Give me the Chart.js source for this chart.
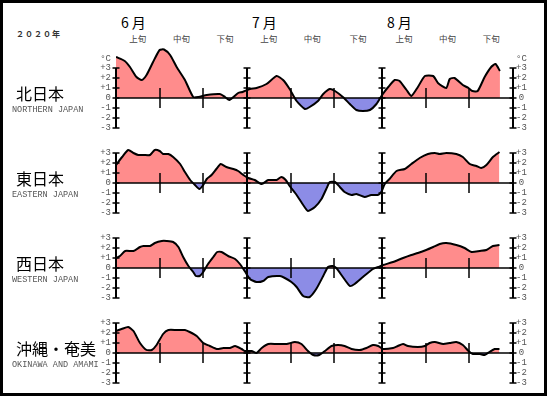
<!DOCTYPE html>
<html lang="ja">
<head>
<meta charset="utf-8">
<title>2020年 夏の地域平均気温平年差</title>
<script src="https://cdn.jsdelivr.net/npm/chart.js@4.4.1/dist/chart.umd.min.js"></script>
<style>
  html, body { margin: 0; padding: 0; background: #fff; }
  body { position: relative; width: 547px; height: 396px; overflow: hidden; }
  #frame { position: absolute; left: 0; top: 0; width: 547px; height: 396px; box-sizing: border-box;
           border: 3px solid #000; pointer-events: none; z-index: 5; }
  canvas { position: absolute; left: 0; }
  .lbl { position: absolute; white-space: nowrap; line-height: 1; transform: translateY(-50%); }
  .year { font: bold 8px "Noto Sans CJK JP"; color: #333; letter-spacing: 1px; }
  .month { font: 14px "Noto Sans CJK JP"; color: #000; letter-spacing: 3px; }
  .dekad { font: 8.5px "Noto Sans CJK JP"; color: #444; transform: translate(-50%, -50%); }
  .ja { font: 16px "Noto Sans CJK JP"; color: #000; }
  .en { font: 8.5px "Liberation Mono", monospace; color: #555; }
</style>
</head>
<body>
<div id="frame"></div>
<canvas id="c0" width="547" height="96" style="top:44px"></canvas>
<canvas id="c1" width="547" height="84" style="top:141px"></canvas>
<canvas id="c2" width="547" height="84" style="top:226px"></canvas>
<canvas id="c3" width="547" height="84" style="top:311px"></canvas>

<script>
/* =====================================================================
   2020年 6〜8月  地域平均気温 平年差 (°C)
   day 0 = 6/1, day 91 = 8/31
   ===================================================================== */

const yearLabel = '２０２０年';
const monthNames = ['6月', '7月', '8月'];
const monthStart = [0, 30, 61];
const axisDays = [0, 30, 61, 91];
const dekadTicks = [10, 20, 40, 50, 71, 81];
const dekadNames = ['上旬', '中旬', '下旬'];
const dekadMid = [5, 15, 25, 35, 45, 55.5, 66, 76, 86];
const tickValues = [3, 2, 1, 0, -1, -2, -3];
const regionJa = ['北日本', '東日本', '西日本', '沖縄・奄美'];
const regionEn = ['NORTHERN JAPAN', 'EASTERN JAPAN', 'WESTERN JAPAN', 'OKINAWA AND AMAMI'];

const northDays = [0, 2, 3.2, 4.7, 5.9, 7, 8.5, 10, 11, 12.4, 13.9, 15.8, 17.7, 18.9, 20.8, 23.8, 25, 26, 28, 29,
  30.7, 32.2, 34.5, 36.8, 38.3, 39.8, 41.4, 43.3, 44.4, 46.3, 47.5, 49, 50.2, 52, 53.6, 55.1, 56.6, 58.2, 59.7,
  61, 62.4, 63.9, 65, 66.6, 67.7, 69.2, 70.8, 72.7, 73.8, 75.7, 76.5, 77.6, 79.5, 80.8, 81.7, 82.9, 84.5, 86, 87, 88];
const northTemp = [4.1, 3.7, 3.1, 2.1, 1.8, 2.3, 3.6, 4.8, 4.85, 4.3, 3.1, 1.8, 0.1, 0.1, 0.3, 0.4, 0.1, -0.2, 0.5, 0.6,
  0.9, 1.0, 1.4, 2.2, 1.8, 0.9, -0.3, -1.1, -0.9, -0.3, 0.4, 0.9, 0.7, 0.1, -0.6, -1.2, -1.3, -1.2, -0.6,
  0.3, 1.1, 1.8, 1.7, 0.8, 0.2, 1.1, 2.2, 2.2, 1.5, 1.0, 1.9, 2.0, 1.3, 1.0, 0.7, 0.7, 2.1, 3.1, 3.4, 2.7];

const eastDays = [0, 1.4, 2.8, 4, 5.1, 6.3, 7.8, 8.9, 10, 10.8, 12, 13.1, 14.7, 15.8, 17, 18.1, 19.1, 20, 20.8, 21.9,
  23, 24, 25.3, 26.9, 28, 29.2, 30.3, 31.8, 33.4, 34.9, 36.8, 37.9, 38.9, 39.8, 41.4, 42.9, 44, 45.6, 47.1, 48.2,
  49, 50.2, 51.3, 52.4, 54, 55.1, 57, 58.5, 60, 60.8, 61.6, 62.7, 64.3, 66.2, 67.7, 69.6, 71.5, 73.1, 74.2, 75.7,
  78, 79.5, 81.1, 82.6, 83.7, 84.9, 86.4, 87.9];
const eastTemp = [1.8, 2.6, 3.3, 3.0, 2.8, 2.8, 2.8, 3.3, 3.2, 2.9, 2.9, 2.6, 1.9, 1.1, 0.3, -0.2, -0.6, -0.2, 0.4, 0.8,
  1.4, 1.9, 1.6, 1.4, 1.2, 0.8, 0.5, 0.3, -0.1, 0.3, 0.3, 0.6, 0.3, -0.3, -1.2, -2.2, -2.8, -2.4, -1.6, -0.6,
  0.1, 0.1, -0.4, -0.9, -1.2, -1.1, -1.4, -1.2, -1.2, -0.9, -0.1, 0.4, 1.2, 1.4, 1.9, 2.5, 2.9, 3.0, 2.9, 3.0,
  2.9, 2.6, 1.9, 1.7, 1.5, 1.8, 2.6, 3.1];

const westDays = [0, 0.9, 2.1, 4, 5.5, 6.3, 7.8, 8.9, 10.5, 11.6, 13.1, 14.3, 15.4, 16.6, 17.7, 18.3, 19.2, 20, 21.1,
  22.3, 23.2, 24.2, 25.7, 27.3, 28.4, 29.5, 30.7, 32.2, 33.7, 34.9, 37.6, 38.7, 40.2, 41.4, 42.9, 44.4, 45.9, 47.5,
  48.6, 49.6, 50.5, 52, 53.6, 54.7, 56.6, 58.9, 60.1, 61.2, 63.5, 65.8, 67.7, 69.2, 71.1, 72.7, 74.2, 75.7, 78,
  79.9, 81.5, 83.4, 84.9, 86.4, 87.9];
const westTemp = [1.0, 1.2, 1.7, 1.7, 2.1, 2.2, 2.2, 2.5, 2.7, 2.7, 2.6, 2.1, 1.1, 0.2, -0.4, -0.8, -0.8, -0.4, 0.4,
  1.1, 1.6, 1.6, 1.2, 0.9, 0.4, -0.3, -1.1, -1.4, -1.3, -0.9, -0.8, -1.0, -1.4, -1.9, -2.8, -2.9, -2.1, -0.8,
  0.1, 0.2, 0.0, -0.9, -1.8, -1.6, -0.9, -0.1, 0.1, 0.3, 0.6, 1.0, 1.3, 1.5, 1.8, 2.1, 2.4, 2.5, 2.3,
  2.0, 1.6, 1.7, 1.8, 2.2, 2.3];

const okiDays = [0, 1.3, 2.8, 4, 5.5, 7, 8.2, 9.3, 10.8, 12, 13.9, 15.8, 16.9, 18.5, 20, 21.5, 23.1, 24.6, 26.1, 27.3,
  28.8, 29.5, 31.1, 32.2, 33.4, 34.9, 36.8, 39.1, 41, 42.5, 44, 45.2, 46.6, 47.9, 49.4, 50.9, 52.4, 54, 55.9, 57.4,
  58.9, 60.1, 61.2, 63.5, 64.6, 65.8, 66.9, 69.2, 70.8, 71.9, 73.1, 75, 76.5, 78, 79.5, 80.8, 81.8, 83.4, 84.5,
  85.6, 86.8, 87.9];
const okiTemp = [2.2, 2.4, 2.6, 2.2, 1.0, 0.3, 0.3, 0.8, 1.9, 2.3, 2.3, 2.3, 2.1, 1.7, 1.0, 0.7, 0.4, 0.5, 0.5, 0.7,
  0.4, 0.2, 0.2, 0.0, 0.5, 0.9, 0.9, 0.9, 1.1, 0.9, 0.2, -0.2, -0.2, 0.2, 0.7, 0.8, 0.7, 0.4, 0.3, 0.5,
  0.8, 0.7, 0.4, 0.5, 0.7, 0.9, 0.7, 0.6, 0.7, 1.0, 1.1, 0.9, 1.0, 1.1, 0.8, 0.2, -0.1, -0.1, -0.2,
  0.1, 0.4, 0.4];

const seriesDays = [northDays, eastDays, westDays, okiDays];
const seriesTemp = [northTemp, eastTemp, westTemp, okiTemp];
const yTop = [5.4, 4.2, 4.2, 4.2];   // panel 1 overshoots +3, give it headroom
const yBottom = -4.2;

function seg(ctx, x1, y1, x2, y2) {
  ctx.beginPath();
  ctx.moveTo(x1, y1);
  ctx.lineTo(x2, y2);
  ctx.stroke();
}

// zero line, month axes with crossbars, short dekad ticks
const frameMarks = {
  id: 'frameMarks',
  afterDatasetsDraw(chart) {
    const { ctx, scales: { x, y } } = chart;
    const y0 = y.getPixelForValue(0);
    ctx.save();
    ctx.strokeStyle = '#000';
    ctx.lineWidth = 1.5;
    seg(ctx, x.getPixelForValue(axisDays[0]), y0, x.getPixelForValue(axisDays[axisDays.length - 1]), y0);

    axisDays.forEach((d) => {
      const px = Math.round(x.getPixelForValue(d));
      ctx.lineWidth = 2;
      seg(ctx, px, y.getPixelForValue(3), px, y.getPixelForValue(-3));
      ctx.lineWidth = 1.5;
      tickValues.forEach((v) => {
        const py = y.getPixelForValue(v);
        seg(ctx, px - 3.5, py, px + 3.5, py);
      });
    });

    ctx.lineWidth = 1.5;
    dekadTicks.forEach((d) => {
      const px = Math.round(x.getPixelForValue(d));
      seg(ctx, px, y.getPixelForValue(1), px, y.getPixelForValue(-1));
    });
    ctx.restore();
  },
};

function yAxis(pos, top, withUnit) {
  return {
    display: true,
    position: pos,
    min: yBottom,
    max: top,
    grid: { display: false, drawTicks: false },
    border: { display: false },
    afterBuildTicks: (axis) => {
      const vals = withUnit ? [3.9].concat(tickValues) : tickValues;
      axis.ticks = vals.map((v) => ({ value: v }));
    },
    ticks: {
      autoSkip: false,
      padding: pos === 'left' ? 5 : 3,
      crossAlign: pos === 'left' ? 'near' : 'center',
      color: '#555',
      font: { family: 'Liberation Mono', size: 9 },
      callback: (v) => (v > 3.5 ? '°C' : v > 0 ? '+' + v : String(v)),
    },
    afterFit: (axis) => {
      axis.width = pos === 'left' ? 116 : 34;
      axis.paddingTop = 0;
      axis.paddingBottom = 0;
    },
  };
}

function makePanel(i) {
  const canvas = document.getElementById('c' + i);
  const pts = seriesDays[i].map((d, k) => ({ x: d, y: seriesTemp[i][k] }));
  return new Chart(canvas, {
    type: 'line',
    data: {
      datasets: [{
        data: pts,
        borderColor: '#000',
        borderWidth: 2,
        pointRadius: 0,
        tension: 0.2,
        fill: { target: { value: 0 }, above: '#ff8c8c', below: '#8c8ce6' },
      }],
    },
    options: {
      responsive: false,
      animation: false,
      events: [],
      layout: { padding: 0 },
      plugins: { legend: { display: false }, tooltip: { enabled: false } },
      scales: {
        x: { type: 'linear', min: axisDays[0], max: axisDays[axisDays.length - 1], display: false },
        y: yAxis('left', yTop[i], i === 0),
        y2: yAxis('right', yTop[i], i === 0),
      },
    },
    plugins: [frameMarks],
  });
}

function addLabel(cls, text, left, centerY) {
  const el = document.createElement('div');
  el.className = 'lbl ' + cls;
  el.textContent = text;
  el.style.left = left + 'px';
  el.style.top = centerY + 'px';
  document.body.appendChild(el);
}

const charts = regionJa.map((_, i) => makePanel(i));

// header labels follow the top panel's x scale
const xs = charts[0].scales.x;
addLabel('year', yearLabel, 16, 33);
monthNames.forEach((m, k) => addLabel('month', m, Math.round(xs.getPixelForValue(monthStart[k])) + 5, 22));
dekadMid.forEach((d, k) => addLabel('dekad', dekadNames[k % 3], xs.getPixelForValue(d), 38));

charts.forEach((c, k) => {
  const y0 = c.canvas.offsetTop + c.scales.y.getPixelForValue(0);
  addLabel('ja', regionJa[k], 16, y0 - 5);
  addLabel('en', regionEn[k], 12, y0 + 12);
});
</script>
</body>
</html>
